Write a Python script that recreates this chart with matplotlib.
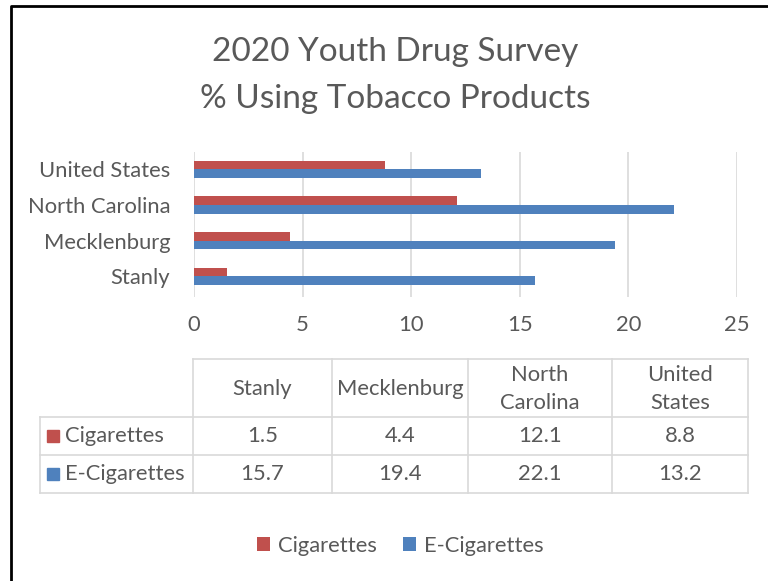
import numpy as np
import matplotlib
matplotlib.use('Agg')
import matplotlib.pyplot as plt
from matplotlib.patches import Rectangle

plt.rcParams['font.family'] = ['Lato', 'DejaVu Sans']

regions = ['Stanly', 'Mecklenburg', 'North Carolina', 'United States']
header_labels = ['Stanly', 'Mecklenburg', 'North\nCarolina', 'United\nStates']
cigarettes = [1.5, 4.4, 12.1, 8.8]
e_cigarettes = [15.7, 19.4, 22.1, 13.2]
series_names = ['Cigarettes', 'E-Cigarettes']
x_ticks = [0, 5, 10, 15, 20, 25]

RED = '#C0504D'
BLUE = '#4F81BD'
TXT = '#595959'
GRID = '#D9D9D9'
W, H = 768, 581
FS = 15.8

fig = plt.figure(figsize=(W / 100, H / 100), dpi=100)

# overlay in pixel coordinates (border, title, data table)
ov = fig.add_axes([0, 0, 1, 1])
ov.set_xlim(0, W)
ov.set_ylim(H, 0)
ov.axis('off')

ov.plot([11, 11, W], [H, 6, 6], color='black', lw=2.0, solid_capstyle='butt')
ov.text(395, 52, '2020 Youth Drug Survey', ha='center', va='center', fontsize=24, color=TXT)
ov.text(395, 99, '% Using Tobacco Products', ha='center', va='center', fontsize=24, color=TXT)

# bar chart
ax = fig.add_axes([194 / W, 1 - 297 / H, 543 / W, 145 / H])
y = np.arange(len(regions))
bh = 0.24
b1 = ax.barh(y + bh / 2, cigarettes, height=bh, color=RED, label=series_names[0], zorder=3)
b2 = ax.barh(y - bh / 2, e_cigarettes, height=bh, color=BLUE, label=series_names[1], zorder=3)
ax.set_xlim(0, 25)
ax.set_ylim(-0.58, 3.485)
ax.set_xticks(x_ticks)
ax.set_yticks(y)
ax.set_yticklabels(regions)
ax.tick_params(length=0, labelsize=FS, labelcolor=TXT)
ax.tick_params(axis='x', pad=13)
ax.tick_params(axis='y', pad=17)
for s in ax.spines.values():
    s.set_visible(False)
ax.grid(axis='x', color=GRID, lw=1.2, zorder=0)

# data table
col_x = [193, 332, 468, 612, 748]
row_y = [359, 417, 455, 493]
left_x = 40
lc = dict(color=GRID, lw=1.2)
ov.plot([col_x[0], col_x[-1]], [row_y[0], row_y[0]], **lc)
for yy in row_y[1:]:
    ov.plot([left_x, col_x[-1]], [yy, yy], **lc)
for xx in col_x:
    ov.plot([xx, xx], [row_y[0], row_y[-1]], **lc)
ov.plot([left_x, left_x], [row_y[1], row_y[-1]], **lc)

for i, lab in enumerate(header_labels):
    cx = (col_x[i] + col_x[i + 1]) / 2
    ov.text(cx, (row_y[0] + row_y[1]) / 2 + 1, lab, ha='center', va='center',
            fontsize=FS, color=TXT, linespacing=1.55)

for r, (name, vals, col) in enumerate([(series_names[0], cigarettes, RED),
                                        (series_names[1], e_cigarettes, BLUE)]):
    cy = (row_y[r + 1] + row_y[r + 2]) / 2
    ov.add_patch(Rectangle((47, cy - 6), 12, 12, color=col))
    ov.text(65, cy, name, ha='left', va='center', fontsize=FS, color=TXT)
    for i, v in enumerate(vals):
        cx = (col_x[i] + col_x[i + 1]) / 2
        ov.text(cx, cy, f'{v:.1f}', ha='center', va='center', fontsize=FS, color=TXT)

leg = fig.legend(handles=[b1, b2], loc='center', bbox_to_anchor=(400 / W, 1 - 546 / H),
                 ncol=2, frameon=False, fontsize=FS, handlelength=0.6, handleheight=0.6,
                 handletextpad=0.35, columnspacing=1.2, labelcolor=TXT)

fig.savefig('out.png', dpi=100, facecolor='white')
